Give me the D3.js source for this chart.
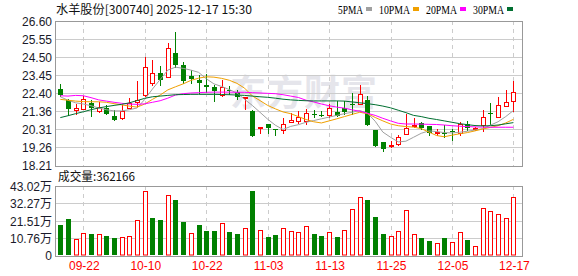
<!DOCTYPE html>
<html>
<head>
<meta charset="utf-8">
<script src="https://cdn.jsdelivr.net/npm/d3@7/dist/d3.min.js"></script>
<style>
  body { margin: 0; background: #fff; }
  svg { display: block; font-family: Arial, "Liberation Sans", sans-serif; }
</style>
</head>
<body>
<svg id="chart" width="578" height="276"></svg>
<script>
// data
var title = "水羊股份[300740] 2025-12-17 15:30";
var open  = [22.63,21.99,21.45,21.51,21.86,21.39,21.57,21.07,20.99,21.57,21.89,22.30,23.01,23.59,23.36,24.76,24.07,23.38,23.15,22.86,
             22.74,22.32,22.59,22.47,22.13,21.37,20.39,20.61,20.32,20.26,20.76,20.82,20.80,21.22,21.16,21.12,21.34,21.57,21.76,21.80,
             21.99,20.26,19.59,19.32,19.45,20.01,20.49,20.66,20.53,20.09,20.11,20.20,20.11,20.61,20.34,20.55,21.24,21.05,21.64,21.97];
var high  = [22.97,22.05,21.80,22.24,22.03,21.89,21.74,21.41,21.70,22.14,23.10,24.53,24.36,23.99,25.32,25.95,24.20,23.76,23.49,23.55,
             22.91,23.20,22.82,22.59,22.20,21.41,20.47,20.64,20.33,20.99,21.24,21.37,21.47,21.41,21.39,21.76,21.95,21.95,22.40,22.91,
             22.24,20.30,19.59,19.64,19.97,21.18,20.99,20.76,20.53,20.32,20.55,20.32,20.76,20.80,20.45,21.41,21.86,22.18,22.57,23.10];
var low   = [22.25,21.14,21.22,21.47,21.09,21.32,21.20,20.85,20.91,21.53,21.61,22.24,22.91,22.91,23.36,23.91,23.01,22.99,22.43,22.47,
             21.95,22.24,22.34,22.05,21.47,19.91,20.12,20.12,19.99,20.10,20.74,20.68,20.64,21.05,21.07,21.05,21.07,21.18,21.18,21.76,
             20.55,19.32,19.03,19.26,19.41,20.01,20.45,20.34,19.99,19.97,19.88,19.70,19.99,20.26,20.28,20.22,20.64,21.05,21.64,21.37];
var close = [22.28,21.51,21.53,22.09,21.57,21.59,21.22,20.86,21.39,21.84,22.03,23.93,23.59,23.16,25.03,24.03,23.11,23.22,23.01,22.76,
             22.53,22.76,22.51,22.18,22.20,19.93,20.47,20.38,20.28,20.61,20.83,21.01,21.28,21.18,21.14,21.57,21.09,21.34,21.72,22.38,
             20.57,19.35,19.16,19.39,19.89,20.41,20.55,20.39,20.07,20.14,20.01,20.16,20.61,20.36,20.38,21.05,21.20,21.70,21.91,22.49];
// volume in 万 (10k)
var volume = [18.9,22.6,10.0,13.7,13.3,13.1,12.1,10.8,11.3,11.9,21.8,39.7,23.2,22.0,37.3,34.4,20.7,13.7,18.9,15.2,
              15.2,19.9,14.5,13.3,16.8,39.9,15.6,11.3,12.5,16.8,15.0,14.4,18.1,13.3,12.1,14.4,11.5,15.6,28.6,36.0,
              34.4,23.8,13.3,12.1,15.0,28.0,13.3,10.8,9.0,7.7,10.8,8.4,14.5,9.6,5.7,29.2,27.4,25.7,23.0,36.2];
var ma5  = [22.20,22.00,21.85,21.78,21.68,21.55,21.45,21.38,21.38,21.45,21.55,22.05,22.65,23.20,23.75,23.92,23.85,23.75,23.62,23.25,
            22.95,22.80,22.62,22.42,22.05,21.70,21.30,20.90,20.55,20.30,20.48,20.58,20.72,20.82,20.92,21.02,21.12,21.22,21.30,21.40,
            21.25,20.78,20.15,19.85,19.58,19.62,19.85,20.08,20.22,20.18,20.12,20.10,20.14,20.20,20.27,20.35,20.55,20.75,21.05,21.40];
var ma10 = [22.05,22.00,21.95,21.92,21.91,21.91,21.88,21.80,21.73,21.66,21.60,21.78,22.05,22.30,22.60,22.78,22.95,23.15,23.28,23.36,
            23.34,23.27,23.16,22.98,22.70,22.25,21.98,21.70,21.50,21.32,21.22,21.05,20.88,20.75,20.68,20.80,20.92,21.05,21.18,21.30,
            21.22,21.00,20.80,20.62,20.52,20.47,20.44,20.35,20.15,19.95,19.88,19.97,20.05,20.12,20.22,20.33,20.42,20.52,20.68,20.89];
var ma20 = [22.26,22.24,22.28,22.26,22.15,22.02,21.95,21.88,21.82,21.78,21.76,21.79,21.88,21.97,22.12,22.30,22.38,22.42,22.44,22.46,
            22.47,22.47,22.47,22.46,22.46,22.44,22.42,22.40,22.38,22.32,22.24,22.16,22.00,21.90,21.78,21.68,21.60,21.54,21.44,21.36,
            21.24,21.12,20.95,20.80,20.66,20.62,20.62,20.61,20.60,20.59,20.56,20.52,20.49,20.47,20.45,20.44,20.43,20.43,20.43,20.43];
var ma30 = [20.99,21.10,21.22,21.33,21.45,21.55,21.63,21.70,21.76,21.85,21.98,22.11,22.20,22.24,22.28,22.32,22.33,22.34,22.34,22.34,
            22.34,22.33,22.32,22.30,22.28,22.24,22.20,22.17,22.12,22.06,22.02,21.99,21.97,21.96,21.96,21.96,21.96,21.95,21.90,21.85,
            21.80,21.74,21.66,21.56,21.42,21.28,21.12,21.05,20.95,20.88,20.80,20.72,20.64,20.58,20.53,20.51,20.52,20.56,20.63,20.70];
var priceTicks = [18.21,19.26,20.31,21.36,22.40,23.45,24.50,25.55,26.60];
var volTicks = [0,10.76,21.51,32.27,43.02];
var volTickLabels = ["0","10.76万","21.51万","32.27万","43.02万"];
var dateTickIndex = [3,11,19,27,35,43,51,59];
var dateTickLabels = ["09-22","10-10","10-22","11-03","11-13","11-25","12-05","12-17"];
var lastVolume = 362166;
var maNames = ["5PMA","10PMA","20PMA","30PMA"];
var maColors = ["#a0a0a0","#f0a000","#ff00ff","#006f30"];

var svg = d3.select("#chart");
var left = 55, right = 522;
var up = "#ff0000", down = "#008000";

var x = d3.scaleLinear().domain([0, close.length - 1]).range([60.3, 513.4]);
var y = d3.scaleLinear().domain([18.21, 26.60]).range([165.5, 21]);
var v = d3.scaleLinear().domain([0, 43.02]).range([255.5, 186]);

function px(val) { return Math.round(val) + 0.5; }

// title + legend
svg.append("text").attr("x", 56).attr("y", 14)
  .attr("font-family", "'Noto Sans CJK SC', sans-serif").attr("font-size", 12)
  .attr("fill", "#111").attr("textLength", 196).attr("lengthAdjust", "spacingAndGlyphs")
  .text(title);

var lx = 338;
maNames.forEach(function (name, k) {
  var w = name.length * 6 + 1;
  svg.append("text").attr("x", lx).attr("y", 13.5)
    .attr("font-family", "'Liberation Serif', serif").attr("font-size", 12.5)
    .attr("fill", "#000").attr("textLength", w).attr("lengthAdjust", "spacingAndGlyphs")
    .text(name);
  svg.append("rect").attr("x", lx + w + 3).attr("y", 7).attr("width", 6).attr("height", 4)
    .attr("fill", maColors[k]);
  lx += w + 3 + 6 + 7;
});

// watermark
svg.append("text").attr("x", 230).attr("y", 106)
  .attr("font-family", "'Noto Sans CJK SC', sans-serif").attr("font-size", 36).attr("font-weight", "bold")
  .attr("fill", "#e5e5eb").attr("textLength", 147).text("东方财富");

// grids
var gPrice = svg.append("g");
gPrice.selectAll(".hg").data(priceTicks).enter().append("line")
  .attr("x1", left).attr("x2", right)
  .attr("y1", function (d) { return px(y(d)); }).attr("y2", function (d) { return px(y(d)); })
  .attr("stroke", "#cccccc");
gPrice.selectAll(".vg").data(dateTickIndex).enter().append("line")
  .attr("x1", function (d) { return px(x(d)); }).attr("x2", function (d) { return px(x(d)); })
  .attr("y1", 21).attr("y2", 166).attr("stroke", "#cccccc").attr("stroke-dasharray", "4,4");

var gVol = svg.append("g");
gVol.selectAll(".hg").data(volTicks).enter().append("line")
  .attr("x1", left).attr("x2", right)
  .attr("y1", function (d) { return px(v(d)); }).attr("y2", function (d) { return px(v(d)); })
  .attr("stroke", "#cccccc");
gVol.selectAll(".vg").data(dateTickIndex).enter().append("line")
  .attr("x1", function (d) { return px(x(d)); }).attr("x2", function (d) { return px(x(d)); })
  .attr("y1", 186).attr("y2", 255).attr("stroke", "#cccccc").attr("stroke-dasharray", "4,4");

// borders
svg.append("rect").attr("x", left + 0.5).attr("y", px(y(26.60))).attr("width", right - left)
  .attr("height", px(y(18.21)) - px(y(26.60))).attr("fill", "none").attr("stroke", "#999");
svg.append("rect").attr("x", left + 0.5).attr("y", px(v(43.02))).attr("width", right - left)
  .attr("height", px(v(0)) - px(v(43.02))).attr("fill", "none").attr("stroke", "#999");

// axes labels
var yAxis = d3.axisLeft(y).tickValues(priceTicks).tickSize(0).tickPadding(3)
  .tickFormat(function (d) { return d.toFixed(2); });
var ga = svg.append("g").attr("transform", "translate(" + left + ",0.5)").call(yAxis);
ga.select(".domain").remove();
ga.selectAll("text").attr("font-size", 12).attr("fill", "#1a1a2a").attr("font-family", "Arial, 'Liberation Sans', sans-serif");

var vAxis = d3.axisLeft(v).tickValues(volTicks).tickSize(0).tickPadding(3)
  .tickFormat(function (d, i) { return volTickLabels[i]; });
var gv = svg.append("g").attr("transform", "translate(" + left + ",0.5)").call(vAxis);
gv.select(".domain").remove();
gv.selectAll("text").attr("font-size", 12).attr("fill", "#1a1a2a").attr("font-family", "Arial, 'Liberation Sans', 'Noto Sans CJK SC', sans-serif");

var xAxis = d3.axisBottom(x).tickValues(dateTickIndex).tickSize(0).tickPadding(5)
  .tickFormat(function (d, i) { return dateTickLabels[i]; });
var gx = svg.append("g").attr("transform", "translate(0.5,256)").call(xAxis);
gx.select(".domain").remove();
gx.selectAll("text").attr("font-size", 12).attr("fill", "#ff0000").attr("font-family", "Arial, 'Liberation Sans', sans-serif");

svg.append("text").attr("x", 58).attr("y", 181)
  .attr("font-family", "'Noto Sans CJK SC', sans-serif").attr("font-size", 12)
  .attr("fill", "#111").attr("textLength", 77).attr("lengthAdjust", "spacingAndGlyphs")
  .text("成交量:" + lastVolume);

// candles
var idx = d3.range(close.length);
var candles = svg.append("g").selectAll("g").data(idx).enter().append("g");
candles.append("line")
  .attr("x1", function (i) { return px(x(i)); }).attr("x2", function (i) { return px(x(i)); })
  .attr("y1", function (i) { return Math.round(y(high[i])); })
  .attr("y2", function (i) { return Math.round(y(low[i])) + 1; })
  .attr("stroke", function (i) { return close[i] >= open[i] ? up : down; });
candles.append("rect")
  .attr("x", function (i) { return close[i] >= open[i] ? Math.round(x(i)) - 1.5 : Math.round(x(i)) - 2; })
  .attr("y", function (i) {
    var t = Math.round(y(Math.max(open[i], close[i])));
    return close[i] >= open[i] ? t + 0.5 : t;
  })
  .attr("width", function (i) { return close[i] >= open[i] ? 4 : 5; })
  .attr("height", function (i) {
    var h = Math.round(y(Math.min(open[i], close[i]))) - Math.round(y(Math.max(open[i], close[i])));
    return Math.max(h, 1);
  })
  .attr("fill", function (i) { return close[i] >= open[i] ? "#fff" : down; })
  .attr("stroke", function (i) { return close[i] >= open[i] ? up : "none"; });

// moving averages
[ma5, ma10, ma20, ma30].forEach(function (series, k) {
  var line = d3.line().x(function (d, i) { return x(i); }).y(function (d) { return y(d); });
  svg.append("path").datum(series).attr("d", line)
    .attr("fill", "none").attr("stroke", maColors[k]).attr("stroke-width", 1);
});

// volume bars, coloured by change vs previous close
function volUp(i) { return i === 0 ? close[i] >= open[i] : close[i] >= close[i - 1]; }
svg.append("g").selectAll("rect").data(idx).enter().append("rect")
  .attr("x", function (i) { return volUp(i) ? Math.round(x(i)) - 1.5 : Math.round(x(i)) - 2; })
  .attr("y", function (i) { return Math.round(v(volume[i])) + (volUp(i) ? 0.5 : 0); })
  .attr("width", function (i) { return volUp(i) ? 4 : 5; })
  .attr("height", function (i) { return 255 - Math.round(v(volume[i])) - (volUp(i) ? 0.5 : 0); })
  .attr("fill", function (i) { return volUp(i) ? "#fff" : down; })
  .attr("stroke", function (i) { return volUp(i) ? up : "none"; });
</script>
</body>
</html>
